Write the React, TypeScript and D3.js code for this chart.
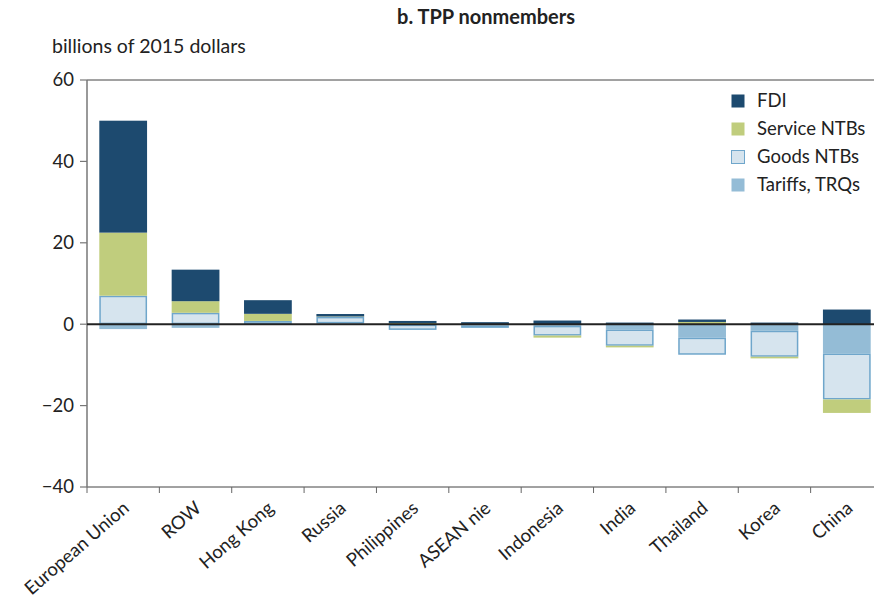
import * as d3 from "d3"

const countries = ["European Union", "ROW", "Hong Kong", "Russia", "Philippines", "ASEAN nie", "Indonesia", "India", "Thailand", "Korea", "China"]
// billions of 2015 dollars
const tariffs = [-1.2, -0.9, 0, 0.2, -0.1, -0.3, -0.4, -1.3, -3.3, -1.6, -7.2]
const goodsNTBs = [7.0, 2.8, 0.8, 1.6, -1.3, -0.6, -2.4, -4.0, -4.2, -6.4, -11.3]
const serviceNTBs = [15.5, 2.85, 1.75, 0.1, 0.3, 0, -0.5, -0.4, 0.55, -0.4, -3.3]
const fdi = [27.5, 7.75, 3.35, 0.6, 0.5, 0.5, 0.9, 0.4, 0.6, 0.4, 3.6]
const yTicks = [60, 40, 20, 0, -20, -40]

const keys = ["tariffs", "goods", "service", "fdi"]
const colors: Record<string, string> = {
  fdi: "#1d4a6f",
  service: "#c0cd7d",
  goods: "#d6e4ee",
  tariffs: "#94bcd6",
}
const legend = [
  { key: "fdi", label: "FDI" },
  { key: "service", label: "Service NTBs" },
  { key: "goods", label: "Goods NTBs" },
  { key: "tariffs", label: "Tariffs, TRQs" },
]

const rows = countries.map((c, i) => ({
  country: c,
  tariffs: tariffs[i],
  goods: goodsNTBs[i],
  service: serviceNTBs[i],
  fdi: fdi[i],
}))

const W = 874
const H = 601
const left = 87
const right = 883
const top = 80
const bottom = 487
const font = "Lato, 'Open Sans', sans-serif"

export default function App() {
  const x = d3.scaleBand<string>().domain(countries).range([left, right]).paddingInner(0.34).paddingOuter(0.17)
  const y = d3.scaleLinear().domain([-40, 60]).range([bottom, top])
  const series = d3.stack<any>().keys(keys).offset(d3.stackOffsetDiverging)(rows)
  const step = x.step()

  return (
    <div style={{ position: "absolute", left: 0, top: 0 }}>
      <svg width={W} height={H} style={{ display: "block", fontFamily: font }}>
        <rect width={W} height={H} fill="#fff" />
        <text x={486} y={24} textAnchor="middle" fontSize={20} fontWeight={700} fill="#222">
          b. TPP nonmembers
        </text>
        <text x={52} y={53} fontSize={19.5} fill="#222">billions of 2015 dollars</text>

        {/* frame */}
        <line x1={left} x2={W} y1={top} y2={top} stroke="#444" strokeWidth={1} />
        <line x1={left} x2={W} y1={bottom} y2={bottom} stroke="#444" strokeWidth={1} />
        <line x1={left} x2={left} y1={top} y2={bottom} stroke="#777" strokeWidth={1.5} />

        {yTicks.map((t) => (
          <g key={t}>
            <line x1={left - 7} x2={left} y1={y(t)} y2={y(t)} stroke="#777" strokeWidth={1.2} />
            <text x={74} y={y(t)} dy="0.35em" textAnchor="end" fontSize={18.5} fill="#222">
              {t < 0 ? `\u2212${Math.abs(t)}` : t}
            </text>
          </g>
        ))}

        {countries.map((c, i) => (
          <line key={c} x1={left + i * step} x2={left + i * step} y1={bottom} y2={bottom + 6} stroke="#666" strokeWidth={1} />
        ))}

        {series.map((s) => (
          <g key={s.key}>
            {s.map((d, i) => {
              const y0 = y(d[0])
              const y1 = y(d[1])
              const h = Math.abs(y0 - y1)
              if (h < 0.01) return null
              const isGoods = s.key === "goods"
              return (
                <rect
                  key={i}
                  x={x(countries[i])! + (isGoods ? 0.75 : 0)}
                  width={x.bandwidth() - (isGoods ? 1.5 : 0)}
                  y={Math.min(y0, y1) + (isGoods ? 0.75 : 0)}
                  height={Math.max(0, h - (isGoods ? 1.5 : 0))}
                  fill={colors[s.key]}
                  stroke={isGoods ? "#6fa6cb" : "none"}
                  strokeWidth={isGoods ? 1.5 : 0}
                />
              )
            })}
          </g>
        ))}

        <line x1={left} x2={W} y1={y(0)} y2={y(0)} stroke="#222" strokeWidth={2} />

        {countries.map((c) => (
          <text
            key={c}
            transform={`translate(${x(c)! + x.bandwidth() / 2 + 7},${bottom + 23}) rotate(-41)`}
            textAnchor="end"
            fontSize={18.5}
            fill="#222"
          >
            {c}
          </text>
        ))}

        {legend.map((l, i) => (
          <g key={l.key} transform={`translate(731,${94 + i * 28})`}>
            <rect
              x={0.5}
              y={0.5}
              width={13}
              height={13}
              fill={colors[l.key]}
              stroke={l.key === "goods" ? "#6fa6cb" : "none"}
            />
            <text x={26} y={7} dy="0.35em" fontSize={18.5} fill="#222">
              {l.label}
            </text>
          </g>
        ))}
      </svg>
    </div>
  )
}
